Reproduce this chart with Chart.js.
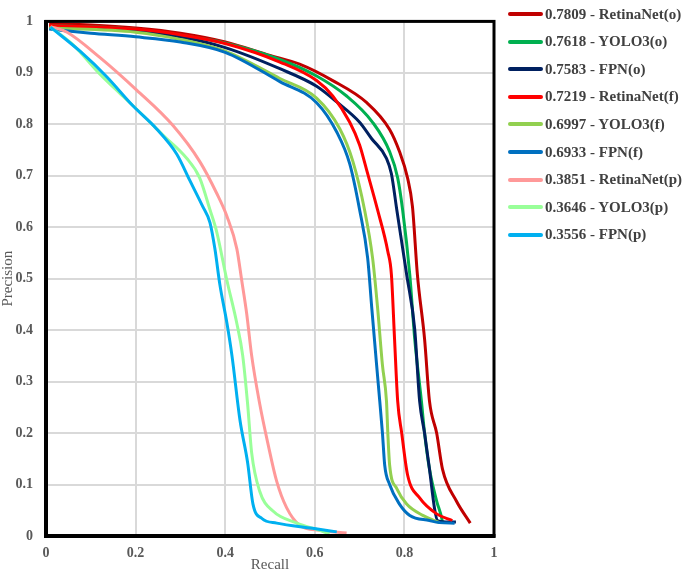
<!DOCTYPE html>
<html>
<head>
<meta charset="utf-8">
<script src="https://cdn.jsdelivr.net/npm/chart.js@4/dist/chart.umd.min.js"></script>
<style>
  html, body { margin: 0; padding: 0; background: #ffffff; }
  #wrap { position: relative; width: 685px; height: 573px; overflow: hidden; }
  #legend { position: absolute; left: 508px; top: 0; font-family: 'Liberation Serif', serif; font-weight: bold; font-size: 15px; color: #404040; }
  .item { position: absolute; left: 0; height: 20px; display: flex; align-items: center; white-space: nowrap; }
  .swatch { width: 35px; height: 4px; border-radius: 2px; margin-right: 2px; }
</style>
</head>
<body>
<div id="wrap">
  <canvas id="c" width="685" height="573"></canvas>
  <div id="legend"></div>
</div>
<script>
// ---- tick labels ----
const xTicks = [0, 0.2, 0.4, 0.6, 0.8, 1];
const xTickLabels = ['0', '0.2', '0.4', '0.6', '0.8', '1'];
const yTicks = [0, 0.1, 0.2, 0.3, 0.4, 0.5, 0.6, 0.7, 0.8, 0.9, 1];
const yTickLabels = ['0', '0.1', '0.2', '0.3', '0.4', '0.5', '0.6', '0.7', '0.8', '0.9', '1'];

// ---- series names (legend) ----
const seriesNames = ['0.7809 - RetinaNet(o)', '0.7618 - YOLO3(o)', '0.7583 - FPN(o)',
  '0.7219 - RetinaNet(f)', '0.6997 - YOLO3(f)', '0.6933 - FPN(f)',
  '0.3851 - RetinaNet(p)', '0.3646 - YOLO3(p)', '0.3556 - FPN(p)'];
const seriesColors = ['#C00000', '#00B050', '#002060', '#FF0000', '#92D050', '#0070C0', '#FF9999', '#99FF99', '#00B0F0'];

// ---- series values: recall (R) and precision (P) ----
const retinaO_R = [0.007,0.1,0.2,0.3,0.4,0.5,0.566,0.64,0.716,0.767,0.789,0.807,0.818,0.829,0.845,0.856,0.872,0.885,0.916,0.947];
const retinaO_P = [0.996,0.993,0.987,0.977,0.96,0.934,0.917,0.885,0.842,0.79,0.747,0.696,0.64,0.508,0.383,0.262,0.2,0.13,0.068,0.025];

const yoloO_R = [0.007,0.2,0.3,0.4,0.522,0.604,0.671,0.729,0.767,0.785,0.796,0.812,0.823,0.838,0.845,0.856,0.872,0.883,0.885];
const yoloO_P = [0.992,0.985,0.973,0.958,0.926,0.894,0.855,0.804,0.747,0.696,0.634,0.508,0.383,0.262,0.2,0.13,0.068,0.036,0.026];

const fpnO_R = [0.007,0.2,0.3,0.4,0.522,0.604,0.651,0.70,0.727,0.76,0.771,0.783,0.805,0.823,0.834,0.845,0.856,0.867,0.874,0.9,0.915];
const fpnO_P = [0.989,0.983,0.97,0.949,0.908,0.874,0.842,0.804,0.772,0.734,0.704,0.634,0.508,0.402,0.262,0.2,0.13,0.055,0.03,0.027,0.027];

const retinaF_R = [0.007,0.2,0.3,0.4,0.522,0.604,0.64,0.678,0.70,0.718,0.74,0.763,0.771,0.778,0.785,0.794,0.807,0.834,0.872,0.907];
const retinaF_P = [0.992,0.985,0.974,0.957,0.921,0.885,0.855,0.804,0.76,0.704,0.634,0.553,0.508,0.383,0.262,0.2,0.119,0.074,0.043,0.03];

const yoloF_R = [0.007,0.2,0.3,0.4,0.522,0.604,0.656,0.685,0.711,0.729,0.74,0.751,0.76,0.763,0.767,0.783,0.805,0.841,0.878];
const yoloF_P = [0.987,0.979,0.965,0.942,0.889,0.851,0.791,0.728,0.634,0.54,0.445,0.332,0.262,0.2,0.138,0.092,0.062,0.04,0.026];

const fpnF_R = [0.007,0.1,0.2,0.3,0.4,0.522,0.604,0.649,0.678,0.70,0.718,0.727,0.738,0.745,0.751,0.756,0.767,0.789,0.812,0.856,0.878,0.912];
const fpnF_P = [0.985,0.977,0.97,0.96,0.94,0.883,0.842,0.785,0.723,0.634,0.54,0.445,0.332,0.262,0.2,0.138,0.1,0.062,0.04,0.03,0.026,0.025];

const retinaP_R = [0.01,0.047,0.12,0.203,0.283,0.343,0.381,0.404,0.426,0.437,0.448,0.459,0.477,0.495,0.515,0.537,0.566,0.611,0.671];
const retinaP_P = [0.99,0.979,0.93,0.866,0.798,0.728,0.666,0.621,0.558,0.496,0.432,0.351,0.257,0.181,0.106,0.055,0.021,0.011,0.006];

const yoloP_R = [0.01,0.06,0.12,0.165,0.21,0.261,0.314,0.343,0.366,0.381,0.404,0.426,0.439,0.45,0.459,0.477,0.506,0.56,0.611,0.633];
const yoloP_P = [0.989,0.955,0.898,0.86,0.823,0.779,0.734,0.696,0.634,0.591,0.496,0.413,0.351,0.257,0.162,0.087,0.049,0.025,0.011,0.004];

const fpnP_R = [0.01,0.076,0.136,0.194,0.247,0.292,0.321,0.35,0.366,0.377,0.388,0.404,0.415,0.433,0.45,0.462,0.482,0.515,0.595,0.649];
const fpnP_P = [0.989,0.942,0.892,0.836,0.791,0.742,0.691,0.64,0.609,0.558,0.489,0.413,0.351,0.225,0.143,0.062,0.034,0.025,0.015,0.008];

const seriesR = [retinaO_R, yoloO_R, fpnO_R, retinaF_R, yoloF_R, fpnF_R, retinaP_R, yoloP_R, fpnP_R];
const seriesP = [retinaO_P, yoloO_P, fpnO_P, retinaF_P, yoloF_P, fpnF_P, retinaP_P, yoloP_P, fpnP_P];

const datasets = seriesNames.map((name, i) => ({
  label: name,
  data: seriesR[i].map((r, j) => ({ x: r, y: seriesP[i][j] })),
  borderColor: seriesColors[i],
  backgroundColor: seriesColors[i],
  borderWidth: 3,
  pointRadius: 0,
  showLine: true,
  cubicInterpolationMode: 'monotone',
  fill: false
}));

// draw in reverse so earlier series sit on top
const drawDatasets = datasets.slice().reverse();

const frame = {
  id: 'frame',
  afterDatasetsDraw(chart) {
    const { ctx, chartArea: a } = chart;
    ctx.save();
    ctx.strokeStyle = '#000';
    ctx.lineWidth = 3;
    ctx.strokeRect(a.left, a.top, a.right - a.left, a.bottom - a.top);
    ctx.lineWidth = 4;
    ctx.beginPath();
    ctx.moveTo(a.left, a.top - 1.5);
    ctx.lineTo(a.left, a.bottom);
    ctx.lineTo(a.right + 1.5, a.bottom);
    ctx.stroke();
    ctx.restore();
  }
};

const tickFont = { family: "'Liberation Serif', serif", size: 14, weight: 'bold' };
const titleFont = { family: "'Liberation Serif', serif", size: 15, weight: 'normal', lineHeight: 1 };

new Chart(document.getElementById('c'), {
  type: 'scatter',
  data: { datasets: drawDatasets },
  options: {
    responsive: false,
    animation: false,
    layout: { padding: { top: 6, right: 191, bottom: 0, left: 0 } },
    plugins: { legend: { display: false }, tooltip: { enabled: false } },
    scales: {
      x: {
        type: 'linear', min: 0, max: 1,
        afterBuildTicks: s => { s.ticks = xTicks.map(v => ({ value: v })); },
        afterFit: s => { s.height = 37; },
        ticks: { font: tickFont, color: '#595959', padding: 9, callback: (v, i) => xTickLabels[i] },
        grid: { color: '#d9d9d9', lineWidth: 2, drawTicks: false },
        border: { display: false },
        title: { display: true, text: 'Recall', font: titleFont, color: '#595959', padding: { top: 0, bottom: 0 } }
      },
      y: {
        type: 'linear', min: 0, max: 1,
        afterBuildTicks: s => { s.ticks = yTicks.map(v => ({ value: v })); },
        afterFit: s => { s.width = 46; },
        ticks: { font: tickFont, color: '#595959', padding: 13, callback: (v, i) => yTickLabels[i] },
        grid: { color: '#d9d9d9', lineWidth: 2, drawTicks: false },
        border: { display: false },
        title: { display: true, text: 'Precision', font: titleFont, color: '#595959', padding: { top: 1, bottom: 0 } }
      }
    }
  },
  plugins: [frame]
});

// HTML legend built from the arrays
const leg = document.getElementById('legend');
seriesNames.forEach((name, i) => {
  const d = document.createElement('div');
  d.className = 'item';
  d.style.top = (4 + i * 27.6) + 'px';
  const sw = document.createElement('span');
  sw.className = 'swatch';
  sw.style.background = seriesColors[i];
  const t = document.createElement('span');
  t.textContent = name;
  d.appendChild(sw);
  d.appendChild(t);
  leg.appendChild(d);
});
</script>
</body>
</html>
